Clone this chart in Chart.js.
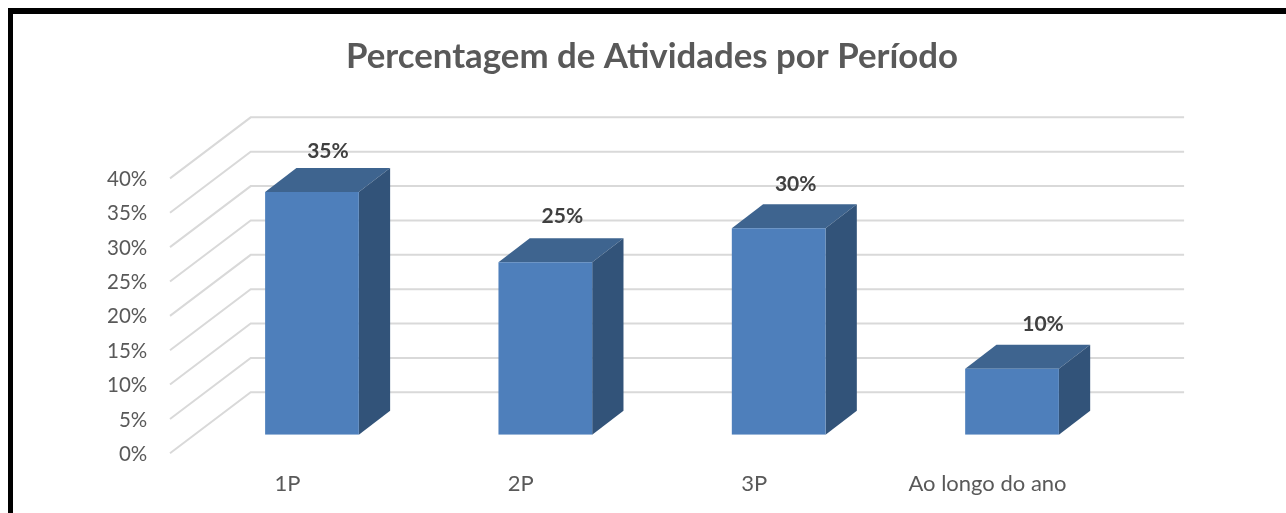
<!DOCTYPE html>
<html>
<head>
<meta charset="utf-8">
<style>
  html,body{margin:0;padding:0;background:#fff;overflow:hidden}
  #frame{position:absolute;left:8px;top:8px;right:0;bottom:0;border-left:5px solid #000;border-top:6px solid #000}
  #wrap{position:absolute;left:0;top:0;width:1286px;height:513px}
</style>
</head>
<body>
<div id="frame"></div>
<div id="wrap"><canvas id="c"></canvas></div>
<script src="https://cdn.jsdelivr.net/npm/chart.js@4/dist/chart.umd.min.js"></script>
<script>
// values, the labels round them
const categories = ['1P', '2P', '3P', 'Ao longo do ano'];
const shares = [35.3, 25.1, 30.05, 9.6];
const yTicks = [0, 5, 10, 15, 20, 25, 30, 35, 40];

const FONT = 'Lato, sans-serif';
// fake 3D geometry, relative to the plane the bars stand on
const BACK = {dx: 55.4, dy: -42.4};
const FRONT = {dx: -25.3, dy: 18.6};
const DEPTH = {dx: 31.3, dy: -24};
const LABEL_SHIFT = [[16, -42], [17, -47], [17, -45], [31, -45]];

function poly(ctx, pts, color) {
  ctx.fillStyle = color;
  ctx.beginPath();
  pts.forEach((p, i) => i ? ctx.lineTo(p[0], p[1]) : ctx.moveTo(p[0], p[1]));
  ctx.closePath();
  ctx.fill();
}

const walls3d = {
  id: 'walls3d',
  beforeDatasetsDraw(chart) {
    const {ctx, chartArea: a, scales: {y}} = chart;
    ctx.save();
    ctx.strokeStyle = '#D9D9D9';
    ctx.lineWidth = 2;
    yTicks.forEach(v => {
      const py = y.getPixelForValue(v);
      ctx.beginPath();
      ctx.moveTo(a.left + FRONT.dx, py + FRONT.dy);
      ctx.lineTo(a.left + BACK.dx, py + BACK.dy);
      ctx.lineTo(a.right + BACK.dx, py + BACK.dy);
      ctx.stroke();
    });
    // top and side faces of every bar
    chart.getDatasetMeta(0).data.forEach(el => {
      const l = el.x - el.width / 2, r = el.x + el.width / 2;
      poly(ctx, [[l, el.y], [l + DEPTH.dx, el.y + DEPTH.dy], [r + DEPTH.dx, el.y + DEPTH.dy], [r, el.y]], '#3E648F');
      poly(ctx, [[r, el.y], [r + DEPTH.dx, el.y + DEPTH.dy], [r + DEPTH.dx, el.base + DEPTH.dy], [r, el.base]], '#325379');
    });
    ctx.restore();
  },
  afterDatasetsDraw(chart) {
    const {ctx} = chart;
    ctx.save();
    ctx.font = 'bold 21px ' + FONT;
    ctx.fillStyle = '#404040';
    ctx.textAlign = 'center';
    ctx.textBaseline = 'middle';
    chart.getDatasetMeta(0).data.forEach((el, i) => {
      ctx.fillText(Math.round(shares[i]) + '%', el.x + LABEL_SHIFT[i][0], el.y + LABEL_SHIFT[i][1] + 1);
    });
    ctx.restore();
  }
};

new Chart(document.getElementById('c'), {
  type: 'bar',
  data: {labels: categories, datasets: [{
    data: shares, backgroundColor: '#4E7FBB', borderWidth: 0,
    barPercentage: 1, categoryPercentage: 0.4016
  }]},
  options: {
    responsive: true, maintainAspectRatio: false, animation: false,
    layout: {padding: {left: 18, right: 0, top: 0, bottom: 0}},
    plugins: {
      legend: {display: false}, tooltip: {enabled: false},
      title: {display: true, text: 'Percentagem de Atividades por Período', color: '#595959',
        font: {family: FONT, size: 34.8, weight: 'bold', lineHeight: 1.2},
        padding: {top: 36.1, bottom: 81.9}}
    },
    scales: {
      x: {
        grid: {display: false}, border: {display: false},
        afterFit: s => { s.height = 78.3; },
        ticks: {color: '#595959', font: {family: FONT, size: 22}, padding: 28, labelOffset: -24.5, maxRotation: 0, autoSkip: false}
      },
      y: {
        min: 0, max: 40,
        grid: {display: false}, border: {display: false},
        afterFit: s => { s.width = 177.3; },
        afterBuildTicks: s => { s.ticks = yTicks.map(v => ({value: v})); },
        ticks: {color: '#595959', font: {family: FONT, size: 20.5}, padding: 40, labelOffset: 19.6, callback: v => v + '%'}
      },
      // empty axis, only reserves the room right of the plot so the title stays centred on the page
      spacer: {
        axis: 'y', position: 'right', min: 0, max: 40,
        grid: {display: false}, border: {display: false}, ticks: {display: false},
        afterFit: s => { s.width = 157.3; }
      }
    }
  },
  plugins: [walls3d]
});
</script>
</body>
</html>
